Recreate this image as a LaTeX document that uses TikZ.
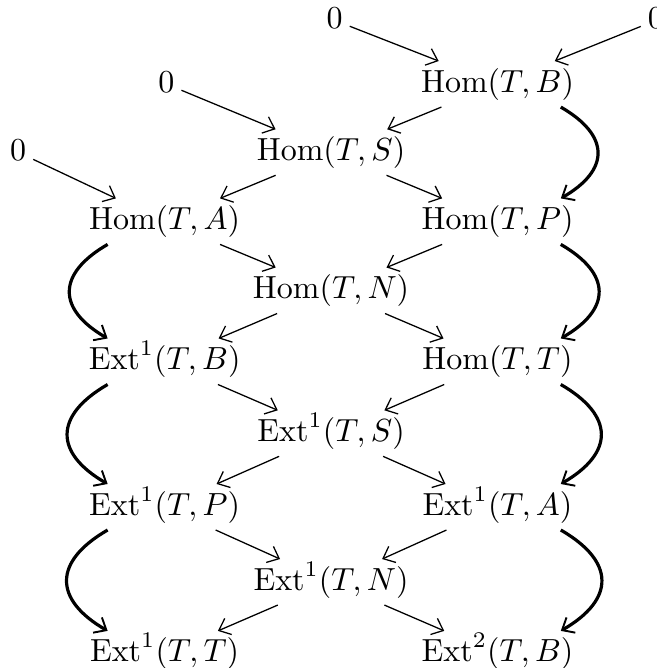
\documentclass[tikz,border=0pt]{standalone}
\usepackage{amsmath}
\usepackage{tikz}
\usetikzlibrary{positioning, arrows.meta}
\tikzstyle{every node}=[text height=7.5pt, text depth=2.5pt, inner sep=2pt]
\tikzstyle{arrow} = [-{Straight Barb[length=3.2pt, width=5.5pt, line width=0.4pt]}]
\tikzstyle{bendarrow} = [-{Straight Barb[length=3.2pt, width=5.5pt, line width=0.6pt]}, line width=1pt]

\begin{document}
\begin{tikzpicture}[node distance=0.78cm]
  \useasboundingbox (-5.47,0.924) rectangle (1.75,-6.42);
  % Hom-Zeile
  \node (hB) {$\mathrm{Hom}(T,B)$};
  \node (zB1) [above of=hB, xshift=-1.79cm, yshift=-0.08cm] {$0$};
  \node (zB2) [above of=hB, xshift=1.74cm, yshift=-0.08cm] {$0$};
  \node (zS) [left of=hB, node distance=3.64cm] {$0$};
  \node (hS) [below of=hB, xshift=-1.83cm, yshift=0.03cm] {$\mathrm{Hom}(T,S)$};
  \node (zA) [left of=hS, node distance=3.44cm] {$0$};
  \node (hA) [below of=hS, xshift=-1.83cm, yshift=0.02cm] {$\mathrm{Hom}(T,A)$};
  \node (hP) [below of=hS, xshift=1.83cm, yshift=0.02cm] {$\mathrm{Hom}(T,P)$};
  \node (hN) [below of=hA, xshift=1.83cm, yshift=0.02cm] {$\mathrm{Hom}(T,N)$};

  % Ext-Zeile
  \node (eB) [below of=hN, xshift=-1.83cm] {$\mathrm{Ext}^1(T,B)$};
  \node (hT) [below of=hN, xshift=1.83cm] {$\mathrm{Hom}(T,T)$};
  \node (eS) [below of=eB, xshift=1.83cm, yshift=-0.01cm] {$\mathrm{Ext}^1(T,S)$};
  \node (eP) [below of=eS, xshift=-1.83cm, yshift=-0.03cm] {$\mathrm{Ext}^1(T,P)$};
  \node (eA) [below of=eS, xshift=1.83cm, yshift=-0.03cm] {$\mathrm{Ext}^1(T,A)$};
  \node (eN) [below of=eP, xshift=1.83cm, yshift=-0.045cm] {$\mathrm{Ext}^1(T,N)$};
  \node (eT) [below of=eN, xshift=-1.83cm, yshift=-0.01cm] {$\mathrm{Ext}^1(T,T)$};
  \node (eTwoB) [below of=eN, xshift=1.83cm, yshift=-0.01cm] {$\mathrm{Ext}^2(T,B)$};

  % gerade Pfeile
  \draw [arrow](zB1) -- (hB);
  \draw [arrow](zB2) -- (hB);
  \draw [arrow](zS) -- (hS);
  \draw [arrow](zA) -- (hA);
  \draw [arrow](hB) -- (hS);
  \draw [arrow](hS) -- (hA);
  \draw [arrow](hS) -- (hP);
  \draw [arrow](hA) -- (hN);
  \draw [arrow](hP) -- (hN);
  \draw [arrow](hN) -- (eB);
  \draw [arrow](hN) -- (hT);
  \draw [arrow](eB) -- (eS);
  \draw [arrow](hT) -- (eS);
  \draw [arrow](eS) -- (eP);
  \draw [arrow](eS) -- (eA);
  \draw [arrow](eP) -- (eN);
  \draw [arrow](eA) -- (eN);
  \draw [arrow](eN) -- (eT);
  \draw [arrow](eN) -- (eTwoB);

  % Boegen
  \draw [bendarrow](hB.-20) to[out=-30, in=30, looseness=1.6] (hP.20);
  \draw [bendarrow](hP.-20) to[out=-30, in=30, looseness=1.6] (hT.20);
  \draw [bendarrow](hT.-20) to[out=-30, in=30, looseness=1.6] (eA.20);
  \draw [bendarrow](eA.-20) to[out=-30, in=30, looseness=1.6] (eTwoB.20);
  \draw [bendarrow](hA.-158) to[out=-150, in=150, looseness=1.6] (eB.158);
  \draw [bendarrow](eB.-158) to[out=-150, in=150, looseness=1.6] (eP.158);
  \draw [bendarrow](eP.-158) to[out=-150, in=150, looseness=1.6] (eT.158);
\end{tikzpicture}
\end{document}
